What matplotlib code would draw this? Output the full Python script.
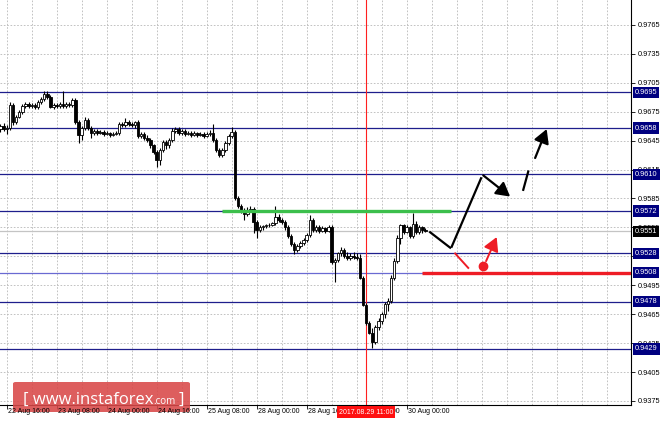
import matplotlib
matplotlib.use('Agg')
import matplotlib.pyplot as plt
from matplotlib.patches import Rectangle, FancyBboxPatch
import matplotlib.transforms as mtransforms
import numpy as np

# ---------------- data (prices x 10^4, hourly bars, index 0 = 22 Aug 16:00) -------------
bar_index = list(range(-2, 135))
open_pips = [9657, 9660, 9657, 9658, 9682, 9664, 9670, 9675, 9681, 9683, 9681, 9682, 9680, 9685, 9688,
             9693, 9690, 9680, 9682, 9681, 9683, 9681, 9683, 9682, 9687, 9664, 9651, 9658, 9666, 9658,
             9653, 9655, 9653, 9654, 9652, 9653, 9651, 9652, 9653, 9662, 9661, 9664, 9662, 9661, 9664,
             9650, 9652, 9648, 9646, 9640, 9633, 9625, 9635, 9644, 9640, 9646, 9655, 9657, 9653, 9655,
             9652, 9653, 9651, 9653, 9651, 9652, 9650, 9652, 9653, 9646, 9635, 9630, 9635, 9643, 9650,
             9654, 9586, 9577, 9572, 9569, 9573, 9574, 9561, 9552, 9555, 9556, 9558, 9557, 9560, 9566,
             9563, 9561, 9555, 9546, 9538, 9532, 9536, 9539, 9542, 9547, 9563, 9552, 9555, 9551, 9554,
             9551, 9555, 9519, 9521, 9528, 9532, 9525, 9523, 9525, 9524, 9523, 9503, 9475, 9456, 9446,
             9436, 9452, 9458, 9465, 9476, 9479, 9503, 9520, 9544, 9557, 9550, 9555, 9546, 9559, 9550,
             9555, 9552]
high_pips = [9662, 9663, 9661, 9685, 9684, 9672, 9677, 9683, 9685, 9685, 9684, 9684, 9687, 9690, 9697,
             9696, 9692, 9684, 9684, 9685, 9696, 9685, 9685, 9689, 9689, 9666, 9660, 9670, 9669, 9660,
             9657, 9657, 9656, 9656, 9655, 9654, 9654, 9655, 9664, 9664, 9668, 9666, 9664, 9665, 9666,
             9654, 9654, 9651, 9648, 9642, 9635, 9637, 9646, 9646, 9648, 9658, 9659, 9659, 9657, 9657,
             9655, 9655, 9655, 9654, 9654, 9654, 9654, 9656, 9662, 9648, 9637, 9637, 9645, 9652, 9659,
             9656, 9588, 9579, 9575, 9576, 9577, 9576, 9563, 9557, 9558, 9559, 9560, 9561, 9577, 9569,
             9565, 9563, 9557, 9548, 9540, 9538, 9541, 9544, 9549, 9568, 9565, 9557, 9557, 9556, 9555,
             9557, 9557, 9523, 9530, 9535, 9534, 9529, 9528, 9530, 9528, 9527, 9505, 9477, 9458, 9451,
             9454, 9461, 9467, 9478, 9482, 9506, 9523, 9547, 9559, 9559, 9557, 9556, 9570, 9562, 9557,
             9556, 9554]
low_pips = [9654, 9655, 9652, 9656, 9661, 9662, 9668, 9673, 9679, 9679, 9679, 9678, 9678, 9683, 9686,
            9688, 9679, 9678, 9679, 9679, 9679, 9679, 9680, 9680, 9662, 9643, 9646, 9656, 9656, 9648,
            9651, 9651, 9652, 9650, 9651, 9649, 9650, 9651, 9651, 9659, 9659, 9660, 9659, 9658, 9648,
            9648, 9646, 9644, 9637, 9631, 9618, 9620, 9633, 9636, 9637, 9644, 9653, 9651, 9651, 9650,
            9651, 9649, 9650, 9649, 9650, 9648, 9649, 9650, 9644, 9633, 9628, 9628, 9633, 9641, 9648,
            9583, 9575, 9570, 9563, 9567, 9571, 9549, 9544, 9550, 9552, 9554, 9555, 9556, 9558, 9561,
            9559, 9552, 9544, 9536, 9527, 9530, 9534, 9537, 9540, 9545, 9550, 9550, 9549, 9550, 9549,
            9550, 9517, 9498, 9519, 9525, 9523, 9521, 9521, 9522, 9521, 9501, 9474, 9454, 9444, 9430,
            9434, 9449, 9455, 9461, 9468, 9477, 9500, 9518, 9538, 9548, 9549, 9544, 9544, 9548, 9548,
            9549, 9550]
close_pips = [9660, 9657, 9658, 9682, 9664, 9670, 9675, 9681, 9683, 9681, 9682, 9680, 9685, 9688, 9693,
              9690, 9680, 9682, 9681, 9683, 9681, 9683, 9682, 9687, 9664, 9651, 9658, 9666, 9658, 9653,
              9655, 9653, 9654, 9652, 9653, 9651, 9652, 9653, 9662, 9661, 9664, 9662, 9661, 9664, 9650,
              9652, 9648, 9646, 9640, 9633, 9625, 9635, 9644, 9640, 9646, 9655, 9657, 9653, 9655, 9652,
              9653, 9651, 9653, 9651, 9652, 9650, 9652, 9653, 9646, 9635, 9630, 9635, 9643, 9650, 9654,
              9586, 9577, 9572, 9569, 9573, 9574, 9561, 9552, 9555, 9556, 9558, 9557, 9560, 9566, 9563,
              9561, 9555, 9546, 9538, 9532, 9536, 9539, 9542, 9547, 9563, 9552, 9555, 9551, 9554, 9551,
              9555, 9519, 9521, 9528, 9532, 9525, 9523, 9525, 9524, 9523, 9503, 9475, 9456, 9446, 9436,
              9452, 9458, 9465, 9476, 9479, 9503, 9520, 9544, 9557, 9550, 9555, 9546, 9559, 9550, 9555,
              9552, 9551]

level_prices = [0.9695, 0.9658, 0.9610, 0.9572, 0.9528, 0.9508, 0.9478, 0.9429]
current_price = 0.9551
ytick_values = [0.9765, 0.9735, 0.9705, 0.9675, 0.9645, 0.9615, 0.9585, 0.9555, 0.9525,
                0.9495, 0.9465, 0.9435, 0.9405, 0.9375]
xtick_index = [-16, 0, 16, 32, 48, 64, 80, 96, 112, 128]
xtick_labels = ['22 Aug 00:00', '22 Aug 16:00', '23 Aug 08:00', '24 Aug 00:00', '24 Aug 16:00',
                '25 Aug 08:00', '28 Aug 00:00', '28 Aug 16:00', '29 Aug 08:00', '30 Aug 00:00']
marker_index = 115
marker_label = '2017.08.29 11:00'

# forecast drawing (bar index, price)
green_line = ([68.9, 142.2], [0.9572, 0.9572])
black_segments = [([135.5, 141.9], [0.9550, 0.9534]),
                  ([142.4, 151.8], [0.9535, 0.9606]),
                  ([165.3, 166.9], [0.9594, 0.9613])]
black_arrows = [((152.5, 0.9609), (161.1, 0.9587)),
                ((169.1, 0.9627), (172.8, 0.9657))]
red_segment = ([143.5, 147.7], [0.9528, 0.9513])
red_level = ([132.8, 210.0], [0.9508, 0.9508])
red_dot = (152.5, 0.9515)
red_arrow = ((153.4, 0.9520), (156.8, 0.9545))

# ---------------- figure -------------
FONT = 'Liberation Sans'
o = np.array(open_pips) / 1e4
h = np.array(high_pips) / 1e4
l = np.array(low_pips) / 1e4
c = np.array(close_pips) / 1e4

fig = plt.figure(figsize=(6.64, 4.23), dpi=100)
fig.patch.set_facecolor('white')
ax = fig.add_axes([0, 18 / 423, 631 / 664, 405 / 423])
ax.set_facecolor('white')
ax.set_xlim(-2.144, 199.78)
ax.set_ylim(0.93708, 0.97909)

grid_kw = dict(color='#b8b8b8', lw=0.6, dashes=(2, 2), zorder=0)
for gx in range(0, 200, 8):
    ax.axvline(gx, **grid_kw)
for gy in ytick_values:
    ax.axhline(gy, **grid_kw)

# levels
navy = '#1e1e8c'
for lv in level_prices:
    col = '#6a6ad2' if abs(lv - 0.9508) < 1e-6 else navy
    ax.axhline(lv, color=col, lw=0.9, zorder=1)
ax.axhline(current_price, color='#c4c4c4', lw=0.9, zorder=1)
ax.axvline(marker_index, color='#ff2020', lw=0.8, zorder=1)

# candles
bw = 0.78
for xi, oo, hh, ll, cc in zip(bar_index, o, h, l, c):
    ax.vlines(xi, ll, hh, color='black', lw=0.8, zorder=3)
    if abs(cc - oo) < 1e-6:
        ax.hlines(oo, xi - bw / 2, xi + bw / 2, color='black', lw=0.8, zorder=4)
    else:
        fc = 'white' if cc > oo else 'black'
        ax.add_patch(Rectangle((xi - bw / 2, min(oo, cc)), bw, abs(cc - oo),
                               facecolor=fc, edgecolor='black', lw=0.6, zorder=4))

# forecast drawing
ax.plot(*green_line, color='#3cbf4c', lw=2.4, solid_capstyle='butt', zorder=5)
for xs, ys in black_segments:
    ax.plot(xs, ys, color='black', lw=1.6, zorder=6)
for p0, p1 in black_arrows:
    ax.annotate('', xy=p1, xytext=p0, zorder=6,
                arrowprops=dict(arrowstyle='-|>,head_length=0.75,head_width=0.42', color='black',
                                lw=1.6, shrinkA=0, shrinkB=0, mutation_scale=11))
red = '#ee1c25'
ax.plot(*red_level, color=red, lw=2.4, solid_capstyle='butt', zorder=5)
ax.plot(*red_segment, color=red, lw=1.4, zorder=6)
ax.plot(*red_dot, 'o', color=red, ms=6, zorder=7)
ax.annotate('', xy=red_arrow[1], xytext=red_arrow[0], zorder=6,
            arrowprops=dict(arrowstyle='-|>,head_length=0.75,head_width=0.42', color=red,
                            lw=1.4, shrinkA=0, shrinkB=0, mutation_scale=11))

# axes styling
for s in ['top', 'left']:
    ax.spines[s].set_visible(False)
for s in ['right', 'bottom']:
    ax.spines[s].set_color('black')
    ax.spines[s].set_linewidth(0.8)
ax.yaxis.tick_right()
ax.set_yticks(ytick_values)
ax.set_yticklabels([f'{v:.4f}' for v in ytick_values], family=FONT)
ax.tick_params(axis='y', length=3, width=0.6, pad=2, labelsize=5.3, colors='black')
ax.set_xticks([t for t in xtick_index if t >= -2])
ax.set_xticklabels([])
ax.tick_params(axis='x', length=3, width=0.6)

ytr = ax.get_yaxis_transform()
box_kw = dict(transform=ytr, fontsize=5.3, color='white', ha='left', va='center',
              clip_on=False, zorder=10, family=FONT)
for lv in level_prices:
    ax.text(1.006, lv, f'{lv:.4f}', **box_kw,
            bbox=dict(boxstyle='square,pad=0.3', fc='#000080', ec='none'))
ax.text(1.006, current_price, f'{current_price:.4f}', **box_kw,
        bbox=dict(boxstyle='square,pad=0.3', fc='black', ec='none'))

# watermark (drawn before the time labels so the labels stay on top)
fig.patches.append(FancyBboxPatch((13 / 664, 11 / 423), 177 / 664, 30 / 423,
                                  boxstyle='round,pad=0,rounding_size=0.004',
                                  transform=fig.transFigure, fc='#d94848', ec='none', alpha=0.88,
                                  zorder=20))
wy = 19 / 423
t1 = fig.text(23 / 664, wy, '[ www.instaforex', fontsize=12, color='white', ha='left',
              va='baseline', family='Open Sans', zorder=21)
fig.canvas.draw()
bb = t1.get_window_extent()
t2 = fig.text(bb.x1 / 664, wy, '.com', fontsize=7, color='white', ha='left', va='baseline',
              family='Open Sans', zorder=21)
fig.canvas.draw()
bb2 = t2.get_window_extent()
fig.text(bb2.x1 / 664 + 3 / 664, wy, ']', fontsize=12, color='white', ha='left', va='baseline',
         family='Open Sans', zorder=21)

# time labels
btr = mtransforms.blended_transform_factory(ax.transData, fig.transFigure)
for t, lab in zip(xtick_index, xtick_labels):
    fig.text(t + 0.4, 12 / 423, lab, transform=btr, fontsize=5.0, ha='left', va='center',
             family=FONT, zorder=30)
fig.text(marker_index, 11 / 423, marker_label, transform=btr, fontsize=5.0, ha='center',
         va='center', color='white', family=FONT, zorder=31,
         bbox=dict(boxstyle='square,pad=0.3', fc='#ff1010', ec='none'))

fig.savefig('out.png', dpi=100, facecolor='white')
